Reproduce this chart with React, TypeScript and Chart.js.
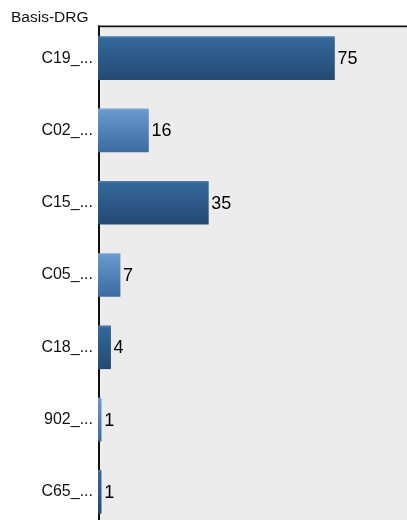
import React, { useEffect, useRef } from "react";
import { Chart, registerables } from "chart.js";

Chart.register(...registerables);

const title = "Basis-DRG";
const categories = ["C19_...", "C02_...", "C15_...", "C05_...", "C18_...", "902_...", "C65_..."];
const values = [75, 16, 35, 7, 4, 1, 1];
const xMax = 98;

const FONT = "'Liberation Sans', Arial, sans-serif";

const darkStops = ["#4a7db0", "#34679b", "#244a73"];
const lightStops = ["#7aa8d6", "#6797cb", "#3b6ba1"];

export default function App() {
  const ref = useRef<HTMLCanvasElement | null>(null);

  useEffect(() => {
    document.body.style.margin = "0";
    const canvas = ref.current;
    if (!canvas) return;

    const frame = {
      id: "frame",
      beforeDatasetsDraw(chart: any) {
        const { ctx, width, height } = chart;
        const left = chart.chartArea.left;
        ctx.save();
        ctx.fillStyle = "#ececec";
        ctx.fillRect(left, 26, width - left, height - 26);
        ctx.fillStyle = "#111";
        ctx.fillRect(left, 25.5, width - left, 1.7);
        ctx.fillRect(left, 25.5, 2, height - 25.5);
        ctx.restore();
      },
      afterDatasetsDraw(chart: any) {
        const { ctx } = chart;
        const meta = chart.getDatasetMeta(0);
        ctx.save();
        ctx.fillStyle = "#000";
        ctx.font = `18px ${FONT}`;
        ctx.textAlign = "left";
        ctx.textBaseline = "middle";
        meta.data.forEach((el: any, i: number) => {
          ctx.fillText(String(values[i]), el.x + 3, el.y + 1);
        });
        ctx.font = `15.5px ${FONT}`;
        ctx.fillStyle = "#111";
        ctx.textBaseline = "alphabetic";
        ctx.fillText(title, 11, 22);
        ctx.restore();
      },
    };

    const chart = new Chart(canvas, {
      type: "bar",
      data: {
        labels: categories,
        datasets: [
          {
            data: values,
            barThickness: 43,
            borderWidth: 0,
            backgroundColor: (c: any) => {
              const stops = c.dataIndex % 2 === 0 ? darkStops : lightStops;
              const chart = c.chart;
              const y = chart.scales && chart.scales.y;
              if (!y || !chart.chartArea) return stops[1];
              const cy = y.getPixelForValue(c.dataIndex);
              const g = chart.ctx.createLinearGradient(0, cy - 21.5, 0, cy + 21.5);
              g.addColorStop(0, stops[0]);
              g.addColorStop(0.05, stops[1]);
              g.addColorStop(1, stops[2]);
              return g;
            },
          },
        ],
      },
      options: {
        indexAxis: "y",
        animation: false,
        responsive: true,
        maintainAspectRatio: false,
        layout: { padding: { top: 22, left: 0, right: 0, bottom: 0 } },
        plugins: {
          legend: { display: false },
          tooltip: { enabled: false },
          title: { display: false },
        },
        scales: {
          x: { display: false, min: 0, max: xMax },
          y: {
            offset: true,
            grid: { display: false, drawTicks: false },
            border: { display: false },
            ticks: {
              padding: 5,
              color: "#111",
              font: { family: FONT, size: 16 },
            },
            afterFit: (scale: any) => {
              scale.width = 98;
              scale.paddingTop = 0;
              scale.paddingBottom = 0;
            },
          },
        },
      },
      plugins: [frame],
    } as any);

    return () => chart.destroy();
  }, []);

  return (
    <div style={{ width: 407, height: 520, overflow: "hidden", position: "relative" }}>
      <div style={{ width: 407, height: 528, position: "absolute", left: 0, top: 0 }}>
        <canvas ref={ref} />
      </div>
    </div>
  );
}
